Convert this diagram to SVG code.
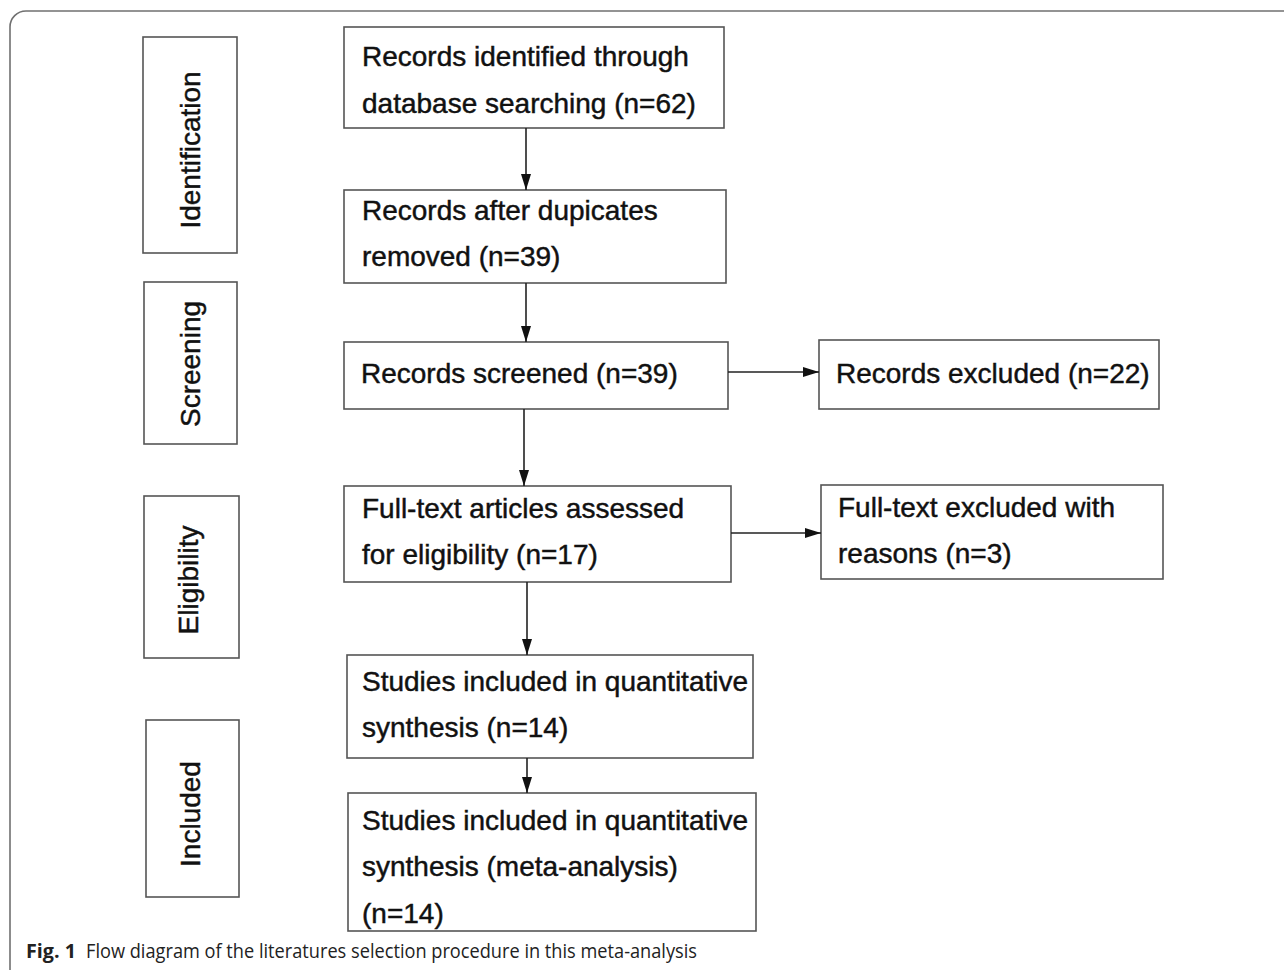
<svg xmlns="http://www.w3.org/2000/svg" width="1284" height="970" viewBox="0 0 1284 970">
<style>
.box{fill:#fff;stroke:#555;stroke-width:1.6}
.t{font-family:"Liberation Sans",Arial,sans-serif;font-size:28px;fill:#111;stroke:#111;stroke-width:0.45}
.v{font-family:"Liberation Sans",Arial,sans-serif;font-size:28px;fill:#111;stroke:#111;stroke-width:0.45;text-anchor:middle}
.c{stroke:#222;stroke-width:1.6;fill:none;marker-end:url(#ah)}
.cap{font-family:"Open Sans","Noto Sans",sans-serif;font-size:20px;fill:#222}
</style>
<defs>
<marker id="ah" markerUnits="userSpaceOnUse" markerWidth="18" markerHeight="12" refX="16" refY="5" orient="auto">
<path d="M0,0 L16,5 L0,10 Z" fill="#111"/>
</marker>
</defs>
<rect width="1284" height="970" fill="#fff"/>
<path d="M10,985 L10,27 A16,16 0 0 1 26,11 L1290,11" fill="none" stroke="#707070" stroke-width="1.6"/>

<g id="stage-identification"><rect class="box" x="143" y="37" width="94" height="216"/><text class="v" transform="translate(200,150) rotate(-90)">Identification</text></g>
<g id="stage-screening"><rect class="box" x="144" y="282" width="93" height="162"/><text class="v" transform="translate(200,364) rotate(-90)">Screening</text></g>
<g id="stage-eligibility"><rect class="box" x="144" y="496" width="95" height="162"/><text class="v" transform="translate(198,580) rotate(-90)">Eligibility</text></g>
<g id="stage-included"><rect class="box" x="146" y="720" width="93" height="177"/><text class="v" transform="translate(200,814) rotate(-90)">Included</text></g>

<g id="identified"><rect class="box" x="344" y="27" width="380" height="101"/><text class="t" x="362" y="66">Records identified through</text><text class="t" x="362" y="113">database searching (n=62)</text></g>
<g id="dedup"><rect class="box" x="344" y="190" width="382" height="93"/><text class="t" x="362" y="220">Records after dupicates</text><text class="t" x="362" y="266">removed (n=39)</text></g>
<g id="screened"><rect class="box" x="344" y="342" width="384" height="67"/><text class="t" x="361" y="383">Records screened (n=39)</text></g>
<g id="excluded"><rect class="box" x="819" y="340" width="340" height="69"/><text class="t" x="836" y="383">Records excluded (n=22)</text></g>
<g id="fulltext"><rect class="box" x="344" y="486" width="387" height="96"/><text class="t" x="362" y="518">Full-text articles assessed</text><text class="t" x="362" y="564">for eligibility (n=17)</text></g>
<g id="ft-excluded"><rect class="box" x="821" y="485" width="342" height="94"/><text class="t" x="838" y="517">Full-text excluded with</text><text class="t" x="838" y="563">reasons (n=3)</text></g>
<g id="qual"><rect class="box" x="347" y="655" width="406" height="103"/><text class="t" x="362" y="691">Studies included in quantitative</text><text class="t" x="362" y="737">synthesis (n=14)</text></g>
<g id="meta"><rect class="box" x="348" y="793" width="408" height="138"/><text class="t" x="362" y="830">Studies included in quantitative</text><text class="t" x="362" y="876">synthesis (meta-analysis)</text><text class="t" x="362" y="923">(n=14)</text></g>

<g id="connectors">
<line class="c" x1="526" y1="128" x2="526" y2="190"/>
<line class="c" x1="526" y1="283" x2="526" y2="342"/>
<line class="c" x1="524" y1="409" x2="524" y2="486"/>
<line class="c" x1="527" y1="582" x2="527" y2="655"/>
<line class="c" x1="527" y1="758" x2="527" y2="793"/>
<line class="c" x1="728" y1="372" x2="819" y2="372"/>
<line class="c" x1="731" y1="533" x2="821" y2="533"/>
</g>

<g id="caption">
<text class="cap" x="26" y="958" font-weight="bold" textLength="50" lengthAdjust="spacingAndGlyphs">Fig. 1</text>
<text class="cap" x="86" y="958" textLength="611" lengthAdjust="spacingAndGlyphs">Flow diagram of the literatures selection procedure in this meta-analysis</text>
</g>
</svg>
